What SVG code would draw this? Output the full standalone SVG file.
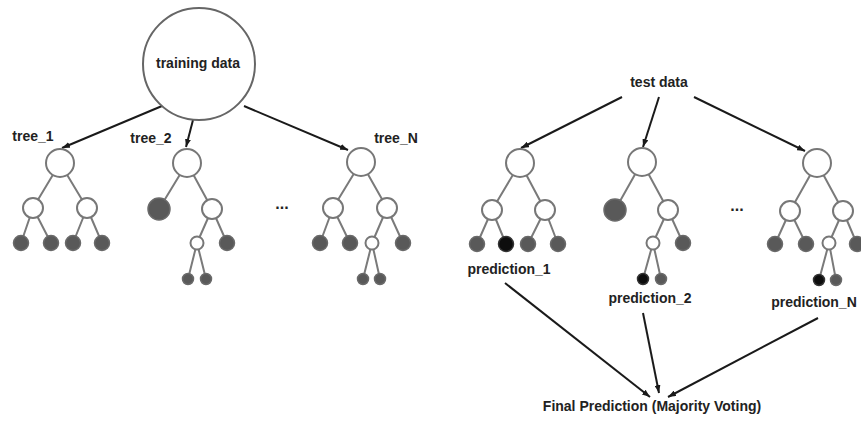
<svg xmlns="http://www.w3.org/2000/svg" width="861" height="423" viewBox="0 0 861 423">
<defs>
<style>
.lbl{font-family:"Liberation Sans",Arial,sans-serif;font-weight:bold;font-size:14px;fill:#222;text-anchor:middle}
.arr{stroke:#1a1a1a;stroke-width:2;fill:none;marker-end:url(#ah)}
.edge{stroke:#7a7a7a;stroke-width:2;fill:none}
.w{fill:#fff;stroke:#777;stroke-width:2}
.d{fill:#595959;stroke:#6a6a6a;stroke-width:1.5}
.k{fill:#0d0d0d;stroke:#333;stroke-width:1.5}
.big{fill:#fff;stroke:#666;stroke-width:2}
</style>
<marker id="ah" markerUnits="userSpaceOnUse" markerWidth="8" markerHeight="6" refX="8" refY="3" orient="auto">
<path d="M0,0 L8,3 L0,6 z" fill="#1a1a1a"/>
</marker>
</defs>
<rect width="861" height="423" fill="#fff"/>

<g id="connectors">
<!-- training data arrows -->
<line class="arr" x1="162" y1="106" x2="62" y2="148"/>
<line class="arr" x1="193" y1="120" x2="186" y2="147"/>
<line class="arr" x1="244" y1="106" x2="348" y2="150"/>
<!-- test data arrows -->
<line class="arr" x1="622" y1="97" x2="521" y2="148"/>
<line class="arr" x1="659" y1="97" x2="643" y2="147"/>
<line class="arr" x1="694" y1="97" x2="805" y2="151"/>
<!-- prediction arrows -->
<line class="arr" x1="505" y1="283" x2="650" y2="397"/>
<line class="arr" x1="643" y1="313" x2="659" y2="393"/>
<line class="arr" x1="818" y1="318" x2="668" y2="397"/>
<!-- tree edges, left -->
<path class="edge" d="M60,163 L33,208 M60,163 L87,208 M33,208 L21,243 M33,208 L51,243 M87,208 L73,243 M87,208 L102,243"/>
<path class="edge" d="M187,163 L159,209 M187,163 L212,209 M212,209 L197,243 M212,209 L227,243 M197,243 L188,279 M197,243 L206,279"/>
<path class="edge" d="M361,162 L333,208 M361,162 L387,208 M333,208 L320,243 M333,208 L350,243 M387,208 L372,243 M387,208 L403,243 M372,243 L363,279 M372,243 L380,279"/>
<!-- tree edges, right -->
<path class="edge" d="M520,163 L492,210 M520,163 L545,210 M492,210 L477,244 M492,210 L506,244 M545,210 L528,244 M545,210 L558,244"/>
<path class="edge" d="M642,162 L615,210 M642,162 L668,210 M668,210 L653,243 M668,210 L683,243 M653,243 L643,279 M653,243 L661,279"/>
<path class="edge" d="M817,163 L790,211 M817,163 L843,211 M790,211 L775,244 M790,211 L806,244 M843,211 L829,243 M843,211 L857,244 M829,243 L819,280 M829,243 L836,280"/>
</g>

<g id="training-data"><circle class="big" cx="199" cy="64" r="56"/><text class="lbl" x="198" y="68">training data</text></g>

<g id="tree_1">
<text class="lbl" x="33" y="141">tree_1</text>
<g id="t1-root"><circle class="w" cx="60" cy="163" r="14"/></g>
<g id="t1-a"><circle class="w" cx="33" cy="208" r="10"/></g>
<g id="t1-b"><circle class="w" cx="87" cy="208" r="10"/></g>
<g id="t1-l1"><circle class="d" cx="21" cy="243" r="7.5"/></g>
<g id="t1-l2"><circle class="d" cx="51" cy="243" r="7.5"/></g>
<g id="t1-l3"><circle class="d" cx="73" cy="243" r="7.5"/></g>
<g id="t1-l4"><circle class="d" cx="102" cy="243" r="7.5"/></g>
</g>

<g id="tree_2">
<text class="lbl" x="151" y="143">tree_2</text>
<g id="t2-root"><circle class="w" cx="187" cy="163" r="14"/></g>
<g id="t2-leaf"><circle class="d" cx="159" cy="209" r="11"/></g>
<g id="t2-b"><circle class="w" cx="212" cy="209" r="10"/></g>
<g id="t2-c"><circle class="w" cx="197" cy="243" r="6.5"/></g>
<g id="t2-l2"><circle class="d" cx="227" cy="243" r="7.5"/></g>
<g id="t2-l3"><circle class="d" cx="188" cy="279" r="5.5"/></g>
<g id="t2-l4"><circle class="d" cx="206" cy="279" r="5.5"/></g>
</g>

<g id="dots-left"><text class="lbl" x="282" y="209" style="font-size:16px">...</text></g>

<g id="tree_N">
<text class="lbl" x="396" y="143">tree_N</text>
<g id="tn-root"><circle class="w" cx="361" cy="162" r="14"/></g>
<g id="tn-a"><circle class="w" cx="333" cy="208" r="10"/></g>
<g id="tn-b"><circle class="w" cx="387" cy="208" r="10"/></g>
<g id="tn-l1"><circle class="d" cx="320" cy="243" r="7.5"/></g>
<g id="tn-l2"><circle class="d" cx="350" cy="243" r="7.5"/></g>
<g id="tn-c"><circle class="w" cx="372" cy="243" r="6.5"/></g>
<g id="tn-l3"><circle class="d" cx="403" cy="243" r="7.5"/></g>
<g id="tn-l4"><circle class="d" cx="363" cy="279" r="5.5"/></g>
<g id="tn-l5"><circle class="d" cx="380" cy="279" r="5.5"/></g>
</g>

<g id="test-data"><text class="lbl" x="659" y="87">test data</text></g>

<g id="rtree_1">
<g id="r1-root"><circle class="w" cx="520" cy="163" r="14"/></g>
<g id="r1-a"><circle class="w" cx="492" cy="210" r="10"/></g>
<g id="r1-b"><circle class="w" cx="545" cy="210" r="10"/></g>
<g id="r1-l1"><circle class="d" cx="477" cy="244" r="7.5"/></g>
<g id="r1-l2"><circle class="k" cx="506" cy="244" r="7.5"/></g>
<g id="r1-l3"><circle class="d" cx="528" cy="244" r="7.5"/></g>
<g id="r1-l4"><circle class="d" cx="558" cy="244" r="7.5"/></g>
<g id="prediction_1"><text class="lbl" x="509" y="274">prediction_1</text></g>
</g>

<g id="rtree_2">
<g id="r2-root"><circle class="w" cx="642" cy="162" r="14"/></g>
<g id="r2-leaf"><circle class="d" cx="615" cy="210" r="11"/></g>
<g id="r2-b"><circle class="w" cx="668" cy="210" r="10"/></g>
<g id="r2-c"><circle class="w" cx="653" cy="243" r="6.5"/></g>
<g id="r2-l2"><circle class="d" cx="683" cy="243" r="7.5"/></g>
<g id="r2-l3"><circle class="k" cx="643" cy="279" r="5.5"/></g>
<g id="r2-l4"><circle class="d" cx="661" cy="279" r="5.5"/></g>
<g id="prediction_2"><text class="lbl" x="650" y="303">prediction_2</text></g>
</g>

<g id="dots-right"><text class="lbl" x="737" y="211" style="font-size:16px">...</text></g>

<g id="rtree_N">
<g id="rn-root"><circle class="w" cx="817" cy="163" r="14"/></g>
<g id="rn-a"><circle class="w" cx="790" cy="211" r="10"/></g>
<g id="rn-b"><circle class="w" cx="843" cy="211" r="10"/></g>
<g id="rn-l1"><circle class="d" cx="775" cy="244" r="7.5"/></g>
<g id="rn-l2"><circle class="d" cx="806" cy="244" r="7.5"/></g>
<g id="rn-c"><circle class="w" cx="829" cy="243" r="6.5"/></g>
<g id="rn-l3"><circle class="d" cx="857" cy="244" r="7.5"/></g>
<g id="rn-l4"><circle class="k" cx="819" cy="280" r="5.5"/></g>
<g id="rn-l5"><circle class="d" cx="836" cy="280" r="5.5"/></g>
<g id="prediction_N"><text class="lbl" x="814" y="307">prediction_N</text></g>
</g>

<g id="final"><text class="lbl" x="652" y="411">Final Prediction (Majority Voting)</text></g>
</svg>
